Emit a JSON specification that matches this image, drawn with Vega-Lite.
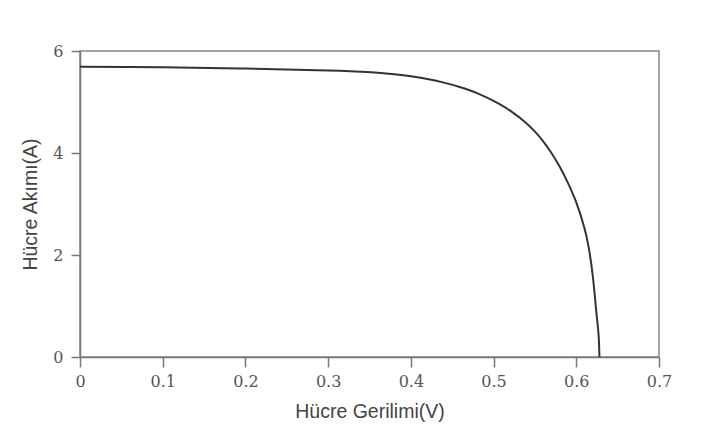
{
  "$schema": "https://vega.github.io/schema/vega-lite/v6.json",
  "autosize": "none",
  "width": 579,
  "height": 306,
  "padding": {"left": 80, "top": 51, "right": 46, "bottom": 84},
  "background": "white",
  "config": {
    "view": {"stroke": "#888", "strokeWidth": 1.5},
    "axis": {
      "domainColor": "#777", "domainWidth": 1.5, "tickColor": "#777", "tickWidth": 1.5,
      "grid": false, "labelFont": "DejaVu Serif", "labelFontSize": 16, "labelFlush": false,
      "labelColor": "#555", "titleFont": "Liberation Sans", "titleFontSize": 19.5,
      "titleFontWeight": "normal", "titleColor": "#444"
    }
  },
  "data": {"values": [
    {"V": 0.0, "I": 5.69},
    {"V": 0.1, "I": 5.68},
    {"V": 0.2, "I": 5.655},
    {"V": 0.3, "I": 5.62},
    {"V": 0.32, "I": 5.61},
    {"V": 0.34, "I": 5.595},
    {"V": 0.36, "I": 5.575},
    {"V": 0.38, "I": 5.545},
    {"V": 0.4, "I": 5.505},
    {"V": 0.42, "I": 5.45},
    {"V": 0.44, "I": 5.38},
    {"V": 0.46, "I": 5.29},
    {"V": 0.48, "I": 5.175},
    {"V": 0.5, "I": 5.02},
    {"V": 0.52, "I": 4.83},
    {"V": 0.54, "I": 4.58},
    {"V": 0.55, "I": 4.42},
    {"V": 0.56, "I": 4.23},
    {"V": 0.57, "I": 4.0},
    {"V": 0.58, "I": 3.73},
    {"V": 0.59, "I": 3.41},
    {"V": 0.6, "I": 3.03},
    {"V": 0.61, "I": 2.52},
    {"V": 0.615, "I": 2.15},
    {"V": 0.62, "I": 1.58},
    {"V": 0.624, "I": 0.92},
    {"V": 0.627, "I": 0.42},
    {"V": 0.628, "I": 0.0}
  ]},
  "mark": {"type": "line", "color": "#333", "strokeWidth": 2, "interpolate": "catmull-rom"},
  "encoding": {
    "x": {"field": "V", "type": "quantitative", "title": "Hücre Gerilimi(V)",
      "scale": {"domain": [0, 0.7], "nice": false},
      "axis": {"values": [0, 0.1, 0.2, 0.3, 0.4, 0.5, 0.6, 0.7], "format": "~g", "tickSize": 10, "labelPadding": 6, "titlePadding": 13}},
    "y": {"field": "I", "type": "quantitative", "title": "Hücre Akımı(A)",
      "scale": {"domain": [0, 6], "nice": false},
      "axis": {"values": [0, 2, 4, 6], "tickSize": 9, "labelPadding": 8, "titlePadding": 12}}
  }
}
